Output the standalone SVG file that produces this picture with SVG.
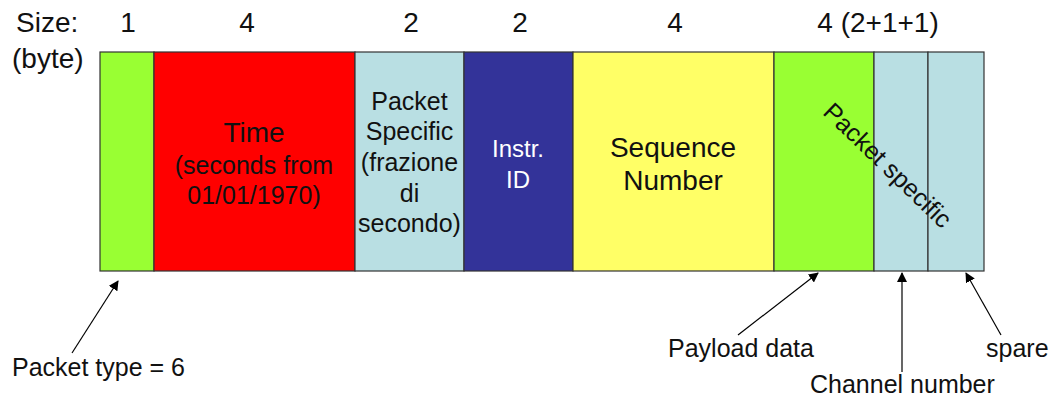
<svg xmlns="http://www.w3.org/2000/svg" width="1053" height="398" viewBox="0 0 1053 398">
  <defs>
    <marker id="arrow" viewBox="0 0 10 10" refX="9" refY="5" markerWidth="10" markerHeight="10" markerUnits="userSpaceOnUse" orient="auto">
      <path d="M0,0 L10,5 L0,10 z" fill="#000"/>
    </marker>
    <style>
      text { font-family: "Liberation Sans", Arial, sans-serif; fill: #111; }
      .hdr { font-size: 28px; text-anchor: middle; }
      .lbl { font-size: 25px; text-anchor: middle; }
      .big { font-size: 28px; text-anchor: middle; }
      .note { font-size: 25px; }
      .field { stroke: #333; stroke-width: 1.2; }
      .conn { stroke: #000; stroke-width: 1.2; fill: none; marker-end: url(#arrow); }
    </style>
  </defs>

  <rect width="1053" height="398" fill="#fff"/>

  <!-- size header -->
  <g id="header">
    <text x="16" y="32" style="font-size:28px">Size:</text>
    <text x="12" y="68" style="font-size:28px">(byte)</text>
    <text class="hdr" x="128" y="32">1</text>
    <text class="hdr" x="247" y="32">4</text>
    <text class="hdr" x="411" y="32">2</text>
    <text class="hdr" x="520" y="32">2</text>
    <text class="hdr" x="675" y="32">4</text>
    <text class="hdr" x="878" y="32">4 (2+1+1)</text>
  </g>

  <!-- packet fields -->
  <g id="packet-type">
    <rect class="field" x="100" y="52" width="54" height="219" fill="#99FF33"/>
  </g>
  <g id="time">
    <rect class="field" x="154" y="52" width="201" height="219" fill="#FF0000"/>
    <text class="big" x="254" y="142">Time</text>
    <text class="lbl" x="254" y="174">(seconds from</text>
    <text class="lbl" x="254" y="204">01/01/1970)</text>
  </g>
  <g id="packet-specific-fraction">
    <rect class="field" x="355" y="52" width="109" height="219" fill="#B9DFE3"/>
    <text class="lbl" x="409.5" y="110">Packet</text>
    <text class="lbl" x="409.5" y="140">Specific</text>
    <text class="lbl" x="409.5" y="171">(frazione</text>
    <text class="lbl" x="409.5" y="202">di</text>
    <text class="lbl" x="409.5" y="232">secondo)</text>
  </g>
  <g id="instr-id">
    <rect class="field" x="464" y="52" width="109" height="219" fill="#333399"/>
    <text class="lbl" x="518" y="157" style="fill:#fff;font-size:24px">Instr.</text>
    <text class="lbl" x="518" y="188" style="fill:#fff;font-size:24px">ID</text>
  </g>
  <g id="sequence-number">
    <rect class="field" x="573" y="52" width="201" height="219" fill="#FFFF66"/>
    <text class="big" x="673" y="157">Sequence</text>
    <text class="big" x="673" y="190">Number</text>
  </g>
  <g id="payload-data">
    <rect class="field" x="774" y="52" width="100" height="219" fill="#99FF33"/>
  </g>
  <g id="channel-number">
    <rect class="field" x="874" y="52" width="54" height="219" fill="#B9DFE3"/>
  </g>
  <g id="spare">
    <rect class="field" x="928" y="52" width="56" height="219" fill="#B9DFE3"/>
  </g>
  <g id="packet-specific-label">
    <text class="lbl" x="0" y="0" dominant-baseline="central" transform="translate(888,165) rotate(44)">Packet specific</text>
  </g>

  <!-- connectors -->
  <g id="connectors">
    <line class="conn" x1="72" y1="353" x2="118" y2="281"/>
    <line class="conn" x1="738" y1="335" x2="818" y2="273"/>
    <line class="conn" x1="902" y1="372" x2="902" y2="273"/>
    <line class="conn" x1="1001" y1="335" x2="966" y2="273"/>
  </g>

  <!-- callout labels -->
  <g id="labels">
    <text class="note" x="12" y="376">Packet type = 6</text>
    <text class="note" x="668" y="357">Payload data</text>
    <text class="note" x="986" y="357">spare</text>
    <text class="note" x="810" y="393">Channel number</text>
  </g>
</svg>
